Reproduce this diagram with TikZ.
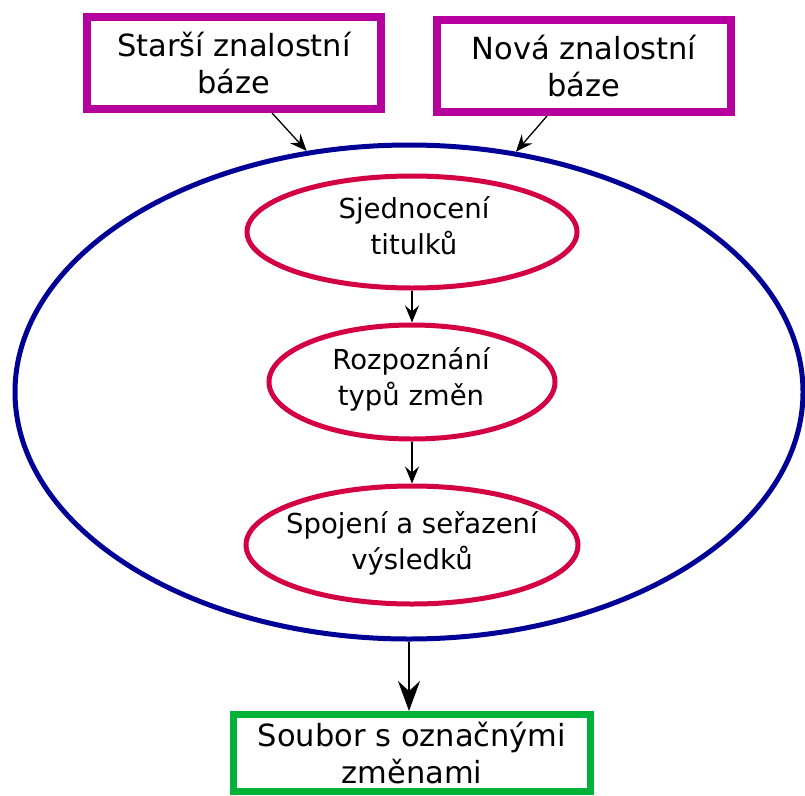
\documentclass[tikz,border=0pt]{standalone}
\usepackage{fontspec}
\setmainfont{DejaVu Sans}
\usetikzlibrary{shapes.geometric,arrows.meta}
\definecolor{boxpurple}{RGB}{181,0,158}
\definecolor{navyblue}{RGB}{0,0,150}
\definecolor{crimsonred}{RGB}{212,0,68}
\definecolor{greenbox}{RGB}{0,178,56}
\tikzset{
  srcbox/.style={draw=boxpurple,line width=8pt,minimum width=294pt,minimum height=92pt,inner sep=0pt,align=center,font=\fontsize{30.5}{37}\selectfont},
  stagell/.style={draw=crimsonred,line width=5pt,ellipse,inner sep=0pt},
  stagetext/.style={align=center,inner sep=0pt,font=\fontsize{27.5}{36}\selectfont},
  outbox/.style={draw=greenbox,line width=7pt,minimum width=357pt,minimum height=77pt,inner sep=0pt,align=center,font=\fontsize{30.5}{37}\selectfont},
  arr/.style={draw=black,line width=1.3pt,-{Stealth[length=17pt,width=14pt,inset=6pt]}},
  bigarr/.style={draw=black,line width=1.8pt,-{Stealth[length=30pt,width=22pt,inset=10pt]}}
}
\begin{document}
\begin{tikzpicture}[x=1pt,y=-1pt]
\useasboundingbox (0,0) rectangle (805,795);
\node[srcbox] (b1) at (234,63) {Starší znalostní\\báze};
\node[srcbox] (b2) at (584,66) {Nová znalostní\\báze};
\node[draw=navyblue,line width=5pt,ellipse,minimum width=788pt,minimum height=494pt,inner sep=0pt] (big) at (409,392) {};
\node[stagell,minimum width=330pt,minimum height=112pt] (e1) at (412,232) {};
\node[stagell,minimum width=286pt,minimum height=114pt] (e2) at (412,382) {};
\node[stagell,minimum width=332pt,minimum height=118pt] (e3) at (412,545) {};
\node[stagetext] (t1) at (414,226) {Sjednocení\\titulků};
\node[stagetext] (t2) at (411,379) {Rozpoznání\\typů změn};
\node[stagetext] (t3) at (412,543) {Spojení a seřazení\\výsledků};
\node[outbox] (out) at (412,753) {Soubor s označnými\\změnami};
\draw[arr] ([xshift=38pt]b1.south) -- (big.113);
\draw[arr] ([xshift=-37pt]b2.south) -- (big.66);
\draw[arr] (e1.south) -- (e2.north);
\draw[arr] (e2.south) -- (e3.north);
\draw[bigarr] (big.south) -- (big.south |- out.north);
\end{tikzpicture}
\end{document}
